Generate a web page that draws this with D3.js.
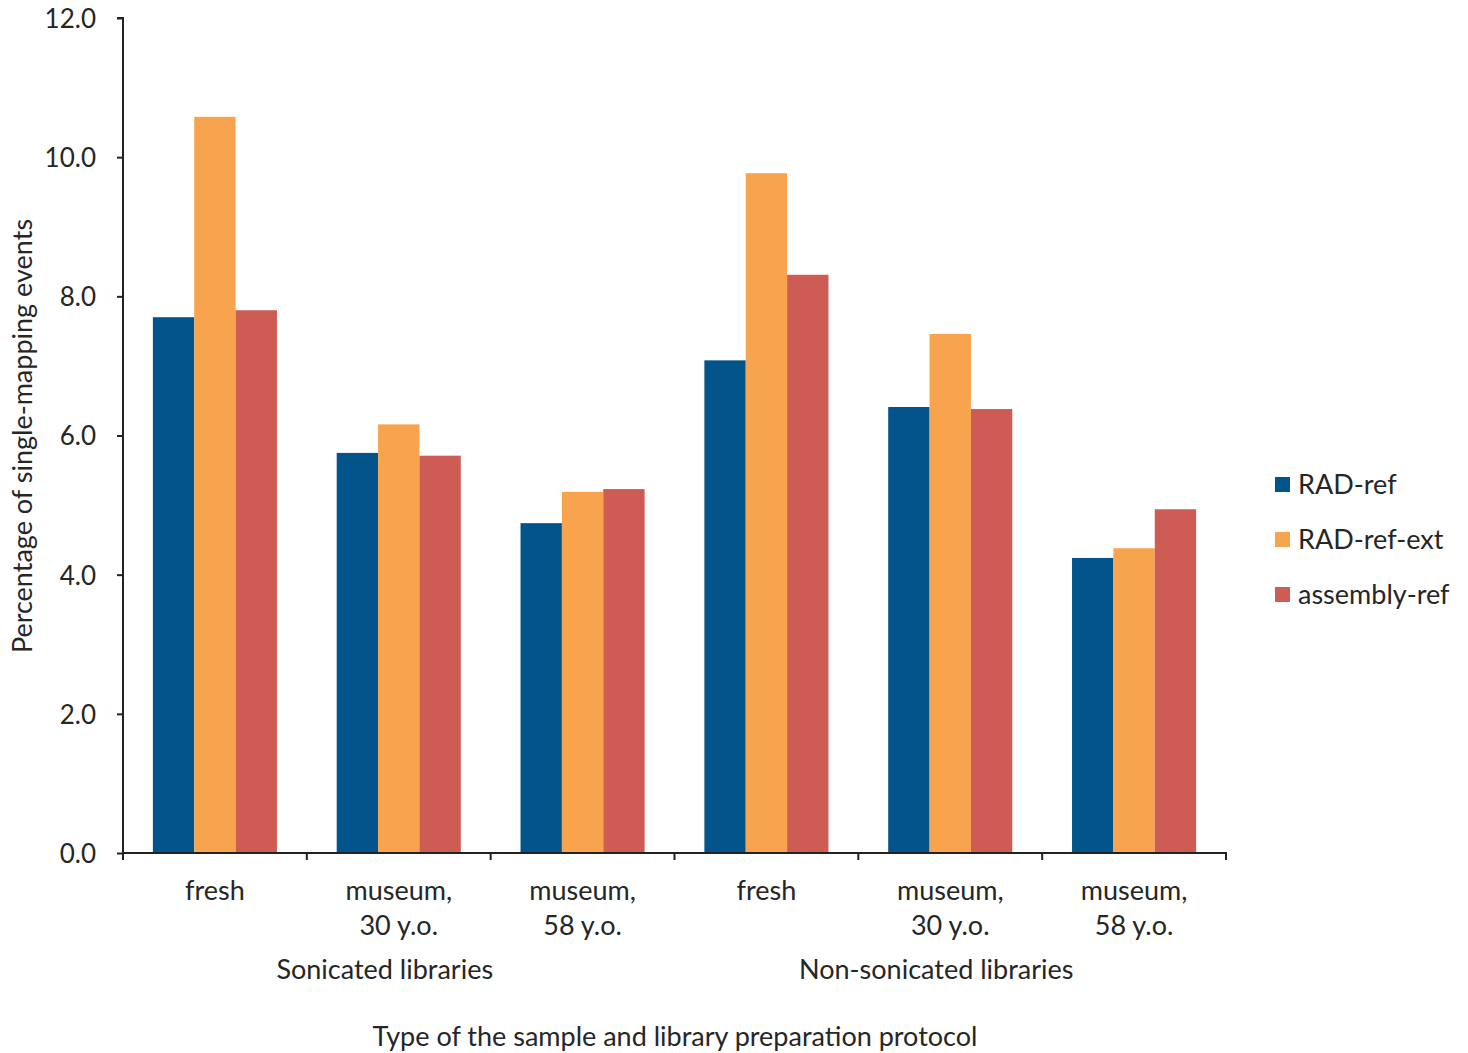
<!DOCTYPE html>
<html><head><meta charset="utf-8">
<script src="https://cdn.jsdelivr.net/npm/d3@7"></script>
<style>body{margin:0;background:#fff;} text{font-family:Lato, "Open Sans", sans-serif; fill:#262626;}</style>
</head><body>
<svg id="chart" width="1468" height="1053"></svg>
<script>
const categories = [["fresh"],["museum,","30 y.o."],["museum,","58 y.o."],["fresh"],["museum,","30 y.o."],["museum,","58 y.o."]];
const groups = ["Sonicated libraries","Non-sonicated libraries"];
const seriesNames = ["RAD-ref","RAD-ref-ext","assembly-ref"];
const radRef      = [7.70, 5.75, 4.74, 7.08, 6.41, 4.24];
const radRefExt   = [10.58, 6.16, 5.19, 9.77, 7.46, 4.38];
const assemblyRef = [7.80, 5.71, 5.23, 8.31, 6.38, 4.94];
const yTicks = [0, 2, 4, 6, 8, 10, 12];
const colors = ["#02548b", "#f8a44e", "#cd5c55"];

const series = [radRef, radRefExt, assemblyRef];
const svg = d3.select("#chart");
const pLeft = 123, pRight = 1226, pTop = 18, pBottom = 853;
const fs = "27px";

const x = d3.scaleBand().domain(d3.range(categories.length)).range([pLeft, pRight]).paddingInner(0.325).paddingOuter(0.1625);
const xs = d3.scaleBand().domain(d3.range(series.length)).range([0, x.bandwidth()]);
const y = d3.scaleLinear().domain([0, 12]).range([pBottom, pTop]);

series.forEach((vals, si) => {
  svg.append("g").selectAll("rect").data(vals).join("rect")
    .attr("x", (d, i) => x(i) + xs(si))
    .attr("width", xs.bandwidth())
    .attr("y", d => y(d))
    .attr("height", d => y(0) - y(d))
    .attr("fill", colors[si]);
});

const yAxis = svg.append("g").attr("transform", `translate(${pLeft},0)`)
  .call(d3.axisLeft(y).tickValues(yTicks).tickFormat(d3.format(".1f")).tickSize(6).tickPadding(21));
yAxis.select(".domain").attr("stroke", "#222").attr("stroke-width", 2).attr("d", `M-6,${pTop}H0V${pBottom}`);
yAxis.selectAll(".tick line").attr("stroke", "#222").attr("stroke-width", 2);
yAxis.selectAll(".tick text").style("font-size", "26px").attr("fill", "#262626").attr("dy", "0.36em");

const bounds = d3.range(categories.length + 1).map(i => pLeft + i * x.step());
const xg = svg.append("g");
xg.append("line").attr("x1", pLeft - 1).attr("x2", pRight + 1).attr("y1", pBottom).attr("y2", pBottom).attr("stroke", "#222").attr("stroke-width", 2);
xg.selectAll(".bt").data(bounds).join("line")
  .attr("x1", d => d).attr("x2", d => d).attr("y1", pBottom).attr("y2", pBottom + 7)
  .attr("stroke", "#222").attr("stroke-width", 2);

categories.forEach((lines, i) => {
  const cx = x(i) + x.bandwidth() / 2;
  lines.forEach((ln, j) => {
    svg.append("text").attr("x", cx).attr("y", 900 + j * 35).attr("text-anchor", "middle")
      .style("font-size", fs).text(ln);
  });
});

groups.forEach((g, gi) => {
  const cx = (bounds[gi * 3] + bounds[gi * 3 + 3]) / 2 - 14;
  svg.append("text").attr("x", cx).attr("y", 979).attr("text-anchor", "middle").style("font-size", fs).text(g);
});

svg.append("text").attr("x", 675).attr("y", 1046).attr("text-anchor", "middle").style("font-size", fs)
  .text("Type of the sample and library preparation protocol");
svg.append("text").attr("transform", "translate(32,436) rotate(-90)").attr("text-anchor", "middle").style("font-size", fs)
  .text("Percentage of single-mapping events");

const lg = svg.append("g").attr("transform", "translate(1275,477)");
seriesNames.forEach((n, i) => {
  lg.append("rect").attr("x", 0).attr("y", i * 55).attr("width", 15).attr("height", 15).attr("fill", colors[i]);
  lg.append("text").attr("x", 23).attr("y", i * 55 + 17).style("font-size", fs).text(n);
});
</script>
</body></html>
